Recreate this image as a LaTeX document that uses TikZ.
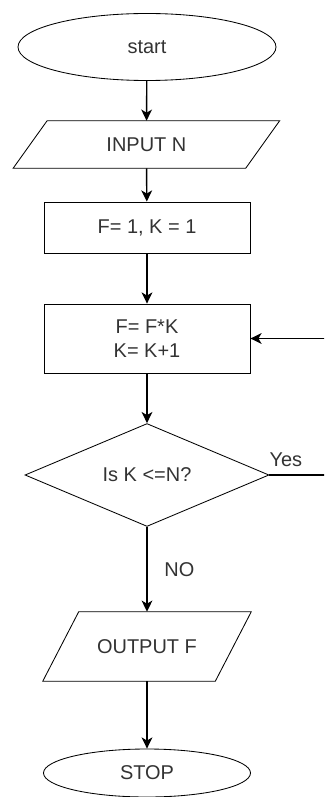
\documentclass[tikz,border=0pt]{standalone}
\usepackage{fontspec}
\setmainfont{Liberation Sans}
\usetikzlibrary{shapes.geometric,arrows.meta}

\definecolor{txt}{HTML}{333333}

\tikzset{
    every node/.style = {font=\fontsize{14.2}{17}\selectfont, text=txt, align=center},
    outline/.style = {line width=0.6pt},
    terminal/.style = {draw, ellipse, inner sep=0, outline},
    io/.style = {rectangle, inner sep=0},
    process/.style = {draw, rectangle, inner sep=0, outline},
    decision/.style = {draw, diamond, inner sep=0, outline},
    flow/.style = {line width=1pt, -{Stealth[length=2.8mm, width=2.7mm, inset=0.8mm]}}
}

\begin{document}
\begin{tikzpicture}
            \useasboundingbox (0,0) rectangle (8.1,-19.925);
            \clip (0,0) rectangle (8.1,-19.925);

            \node[terminal, minimum width=6.45cm, minimum height=1.675cm] (start) at (3.675,-1.175) {start};
            \node[io, minimum width=5.8cm, minimum height=1.175cm] (input) at (3.66,-3.6125) {INPUT N};
            \node[process, minimum width=5.15cm, minimum height=1.275cm] (init) at (3.675,-5.6875) {F= 1, K = 1};
            \node[process, minimum width=5.15cm, minimum height=1.725cm] (body) at (3.675,-8.4625) {F= F*K\\K= K+1};
            \node[decision, minimum width=6.1cm, minimum height=2.525cm] (test) at (3.675,-11.875) {Is K <=N?};
            \node[io, minimum width=4.3cm, minimum height=1.725cm] (output) at (3.675,-16.1625) {OUTPUT F};
            \node[terminal, minimum width=5.175cm, minimum height=1.2cm] (stop) at (3.675,-19.325) {STOP};

            % slanted outlines of the in/out boxes
            \foreach \io/\s in {input/0.425cm, output/0.45cm}
                \draw[outline] ([xshift=\s]\io.north west) -- ([xshift=\s]\io.north east)
                    -- ([xshift=-\s]\io.south east) -- ([xshift=-\s]\io.south west) -- cycle;

            \coordinate (loop) at (8.6,-11.875);

            \draw[flow] (start) -- (input);
            \draw[flow] (input) -- (init);
            \draw[flow] (init) -- (body);
            \draw[flow] (body) -- (test);
            \draw[flow] (test) -- node[right, xshift=0.3cm] {NO} (output);
            \draw[flow] (test.east) -- node[pos=0, above right, inner sep=1pt, xshift=-0.05cm, yshift=0.15cm] {Yes} (loop) |- (body.east);
            \draw[flow] (output) -- (stop);
        \end{tikzpicture}
\end{document}
